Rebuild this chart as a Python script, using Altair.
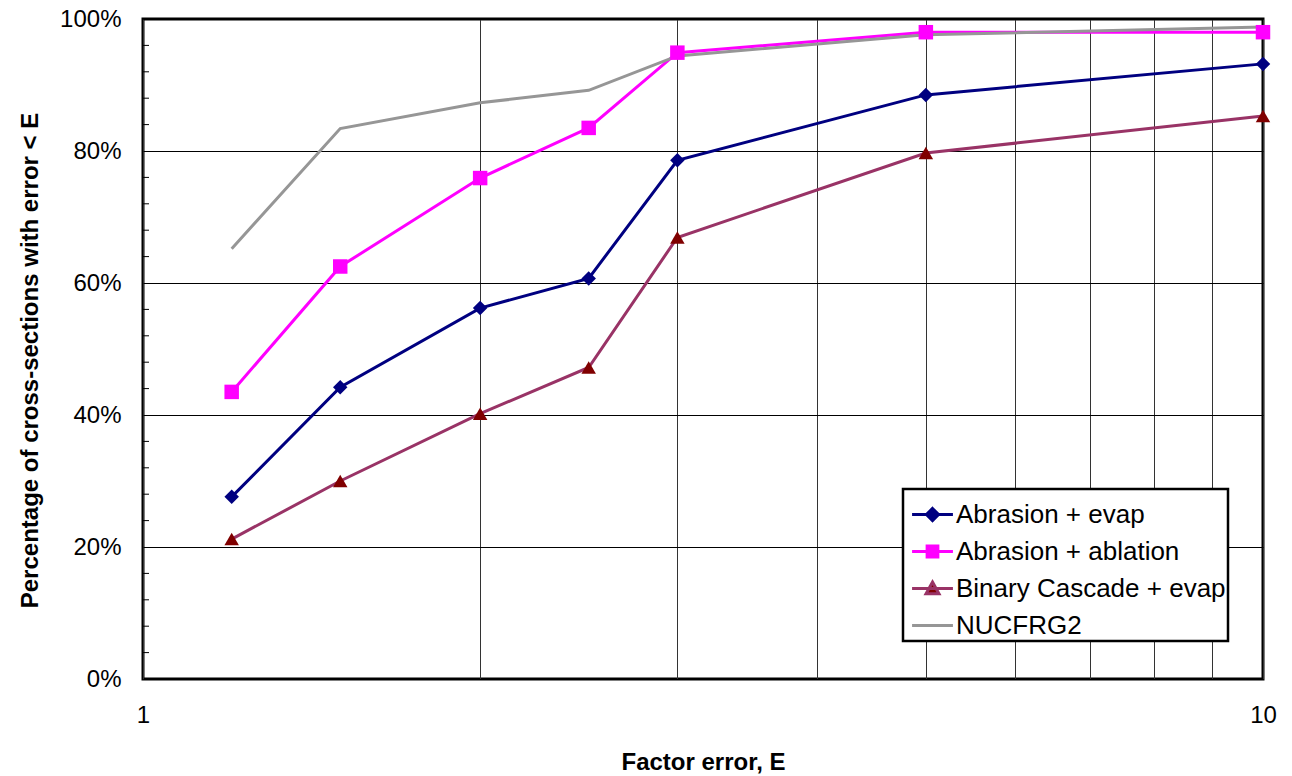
import altair as alt
import pandas as pd

# ---- data ----
factor_error = [1.2, 1.5, 2, 2.5, 3, 5, 10]
series_names = ["Abrasion + evap", "Abrasion + ablation", "Binary Cascade + evap", "NUCFRG2"]
abrasion_evap = [27.6, 44.2, 56.2, 60.7, 78.6, 88.5, 93.2]
abrasion_ablation = [43.5, 62.5, 75.9, 83.5, 94.9, 98.0, 98.0]
binary_cascade_evap = [21.2, 30.0, 40.2, 47.2, 66.9, 79.7, 85.3]
nucfrg2 = [65.2, 83.4, 87.3, 89.2, 94.4, 97.6, 98.8]

x_tick_values = [1, 2, 3, 4, 5, 6, 7, 8, 9, 10]
y_tick_values = [0, 0.2, 0.4, 0.6, 0.8, 1.0]
y_minor_ticks = [0.04, 0.08, 0.12, 0.16, 0.24, 0.28, 0.32, 0.36, 0.44, 0.48, 0.52, 0.56,
                 0.64, 0.68, 0.72, 0.76, 0.84, 0.88, 0.92, 0.96]

line_colors = ["#000080", "#FF00FF", "#993366", "#969696"]
marker_colors = ["#000080", "#FF00FF", "#800000", "#969696"]
marker_shapes = ["diamond", "square", "triangle-up"]
legend_paths = [
    "M-0.95,0H0.95M0,-0.28L0.28,0L0,0.28L-0.28,0Z",
    "M-0.95,0H0.95M-0.25,-0.25H0.25V0.25H-0.25Z",
    "M-0.95,0H0.95M0,-0.3L0.3,0.24H-0.3Z",
    "M-0.95,0H0.95",
]

rows = []
for name, vals in zip(series_names, [abrasion_evap, abrasion_ablation, binary_cascade_evap, nucfrg2]):
    for e, v in zip(factor_error, vals):
        rows.append({"series": name, "E": e, "pct": v / 100.0})
df = pd.DataFrame(rows)
df_markers = df[df["series"] != "NUCFRG2"]
df_minor = pd.DataFrame({"y": y_minor_ticks})

FONT = "Liberation Sans"

x_enc = alt.X(
    "E:Q",
    scale=alt.Scale(type="log", domain=[1, 10], nice=False),
    axis=alt.Axis(
        values=x_tick_values,
        format="d",
        labelExpr="datum.value == 1 || datum.value == 10 ? datum.label : ''",
        title="Factor error, E",
        grid=True,
        gridColor="#333333",
        gridWidth=1,
        ticks=False,
        domain=False,
        labelFontSize=24,
        labelPadding=24,
        labelColor="black",
        labelFlush=False,
        titleFontSize=24,
        titleFontWeight="bold",
        titleColor="black",
        titlePadding=23,
    ),
)
y_enc = alt.Y(
    "pct:Q",
    scale=alt.Scale(domain=[0, 1], nice=False),
    axis=alt.Axis(
        values=y_tick_values,
        format=".0%",
        title="Percentage of cross-sections with error < E",
        grid=True,
        gridColor="black",
        gridWidth=1,
        ticks=False,
        domain=False,
        labelFontSize=24,
        labelPadding=22,
        labelColor="black",
        labelFlush=False,
        titleFontSize=24,
        titleFontWeight="bold",
        titleColor="black",
        titleX=-113,
        titleY=341,
        titleBaseline="middle",
    ),
)

lines = alt.Chart(df).mark_line(strokeWidth=3).encode(
    x=x_enc,
    y=y_enc,
    color=alt.Color("series:N", scale=alt.Scale(domain=series_names, range=line_colors), legend=None),
    detail="series:N",
)

points = alt.Chart(df_markers).mark_point(filled=True, size=210, opacity=1).encode(
    x="E:Q",
    y="pct:Q",
    fill=alt.Fill("series:N", scale=alt.Scale(domain=series_names, range=marker_colors), legend=None),
    shape=alt.Shape("series:N", scale=alt.Scale(domain=series_names[:3], range=marker_shapes), legend=None),
)

minor = alt.Chart(df_minor).mark_rule(color="black", strokeWidth=1).encode(
    y="y:Q",
    x=alt.value(0),
    x2=alt.value(6),
)

legend_layer = alt.Chart(df).transform_filter("false").mark_point(filled=True, opacity=1).encode(
    x="E:Q",
    y="pct:Q",
    shape=alt.Shape(
        "series:N",
        scale=alt.Scale(domain=series_names, range=legend_paths),
        legend=alt.Legend(
            title=None,
            orient="none",
            legendX=760,
            legendY=470,
            symbolSize=1850,
            symbolStrokeWidth=3,
            symbolOpacity=1,
            labelFontSize=26,
            labelFont=FONT,
            labelColor="black",
            labelLimit=500,
            labelOffset=0,
            rowPadding=0,
            padding=2,
            symbolOffset=4,
            strokeColor="black",
            fillColor="white",
        ),
    ),
    fill=alt.Fill("series:N", scale=alt.Scale(domain=series_names, range=marker_colors), title=None),
    stroke=alt.Stroke("series:N", scale=alt.Scale(domain=series_names, range=line_colors), title=None),
)

chart = (
    alt.layer(lines, points, minor, legend_layer)
    .resolve_scale(shape="independent", fill="independent", stroke="independent", color="independent")
    .properties(
        width=1120,
        height=660,
        autosize=alt.AutoSizeParams(type="none"),
        padding={"left": 143, "top": 19, "right": 29, "bottom": 97},
        background="white",
    )
    .configure(font=FONT)
    .configure_view(stroke="black", strokeWidth=3)
    .configure_legend(strokeWidth=2.5)
)

chart.save("out.html", embed_options={"renderer": "svg", "actions": False})
